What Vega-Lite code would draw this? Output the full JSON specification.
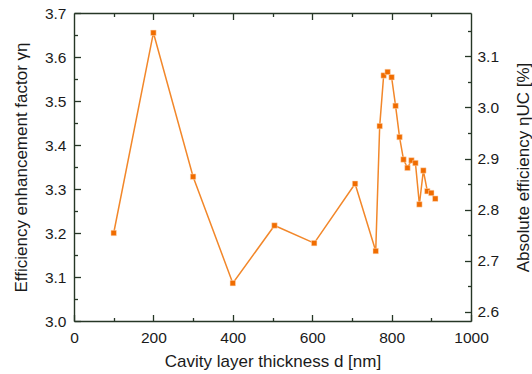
{
  "$schema": "https://vega.github.io/schema/vega-lite/v6.json",
  "width": 397,
  "height": 308,
  "autosize": "none",
  "padding": {"left": 74, "top": 13, "right": 61, "bottom": 53},
  "background": "white",
  "config": {
    "view": {"stroke": null},
    "axis": {
      "grid": false,
      "domainColor": "#263626",
      "domainWidth": 1.4,
      "labelFont": "Liberation Sans",
      "labelFontSize": 15.5,
      "labelColor": "#1a1a1a",
      "titleFont": "Liberation Sans",
      "titleFontSize": 17,
      "titleFontWeight": "normal",
      "titleColor": "#1a1a1a",
      "labelFlush": false
    }
  },
  "data": {
    "values": [
      {"d": 100, "gamma": 3.200, "eta": 2.755},
      {"d": 200, "gamma": 3.655, "eta": 3.146},
      {"d": 300, "gamma": 3.328, "eta": 2.865},
      {"d": 400, "gamma": 3.086, "eta": 2.656},
      {"d": 505, "gamma": 3.217, "eta": 2.769},
      {"d": 605, "gamma": 3.177, "eta": 2.735},
      {"d": 708, "gamma": 3.312, "eta": 2.851},
      {"d": 760, "gamma": 3.159, "eta": 2.719},
      {"d": 770, "gamma": 3.443, "eta": 2.964},
      {"d": 780, "gamma": 3.558, "eta": 3.063},
      {"d": 790, "gamma": 3.566, "eta": 3.070},
      {"d": 800, "gamma": 3.554, "eta": 3.059},
      {"d": 810, "gamma": 3.489, "eta": 3.003},
      {"d": 820, "gamma": 3.418, "eta": 2.942},
      {"d": 830, "gamma": 3.367, "eta": 2.898},
      {"d": 840, "gamma": 3.348, "eta": 2.882},
      {"d": 850, "gamma": 3.365, "eta": 2.897},
      {"d": 860, "gamma": 3.359, "eta": 2.891},
      {"d": 870, "gamma": 3.265, "eta": 2.811},
      {"d": 880, "gamma": 3.342, "eta": 2.877},
      {"d": 890, "gamma": 3.295, "eta": 2.836},
      {"d": 900, "gamma": 3.291, "eta": 2.833},
      {"d": 910, "gamma": 3.278, "eta": 2.822}
    ]
  },
  "layer": [
    {
      "mark": {"type": "point", "opacity": 0},
      "encoding": {
        "x": {"field": "d", "type": "quantitative",
          "scale": {"domain": [0, 1000], "nice": false},
          "axis": {"orient": "bottom", "values": [100, 300, 500, 700, 900], "tickSize": -3.5, "tickColor": "#263626", "tickWidth": 1.3, "labels": false, "domain": false, "title": null}},
        "y": {"field": "gamma", "type": "quantitative",
          "scale": {"domain": [3.0, 3.7], "nice": false, "zero": false},
          "axis": {"orient": "left", "values": [3.05, 3.15, 3.25, 3.35, 3.45, 3.55, 3.65], "tickSize": -3.5, "tickColor": "#263626", "tickWidth": 1.3, "labels": false, "domain": false, "title": null}}
      }
    },
    {
      "mark": {"type": "point", "opacity": 0},
      "encoding": {
        "x": {"field": "d", "type": "quantitative",
          "scale": {"domain": [0, 1000], "nice": false},
          "axis": {"orient": "top", "values": [100, 300, 500, 700, 900], "tickSize": -3.5, "tickColor": "#263626", "tickWidth": 1.3, "labels": false, "domain": false, "title": null}},
        "y": {"field": "eta", "type": "quantitative",
          "scale": {"domain": [2.582, 3.185], "nice": false, "zero": false},
          "axis": {"orient": "right", "values": [2.65, 2.75, 2.85, 2.95, 3.05, 3.15], "tickSize": -3.5, "tickColor": "#263626", "tickWidth": 1.3, "labels": false, "domain": false, "title": null}}
      }
    },
    {
      "mark": {"type": "point", "opacity": 0},
      "encoding": {
        "x": {"field": "d", "type": "quantitative",
          "scale": {"domain": [0, 1000], "nice": false},
          "axis": {"orient": "top", "values": [200, 400, 600, 800], "tickSize": -6.5, "tickColor": "#263626", "tickWidth": 1.3, "labels": false, "title": null}},
        "y": {"field": "eta", "type": "quantitative",
          "scale": {"domain": [2.582, 3.185], "nice": false, "zero": false},
          "axis": {"orient": "right", "values": [2.6, 2.7, 2.8, 2.9, 3.0, 3.1], "format": ".1f", "tickSize": -6.5, "tickColor": "#263626", "tickWidth": 1.3, "labelPadding": 12.5, "title": "Absolute efficiency ηUC [%]", "titleAngle": 270, "titleX": 52, "titleY": 154, "titleAlign": "center", "titleBaseline": "middle"}}
      }
    },
    {
      "mark": {"type": "line", "color": "#f2872a", "strokeWidth": 1.5},
      "encoding": {
        "x": {"field": "d", "type": "quantitative",
          "scale": {"domain": [0, 1000], "nice": false},
          "axis": {"orient": "bottom", "values": [0, 200, 400, 600, 800, 1000], "format": "d", "tickSize": -6.5, "tickColor": "#263626", "tickWidth": 1.3, "labelPadding": 15.5, "title": "Cavity layer thickness d [nm]", "titlePadding": 8}},
        "y": {"field": "gamma", "type": "quantitative",
          "scale": {"domain": [3.0, 3.7], "nice": false, "zero": false},
          "axis": {"orient": "left", "values": [3.0, 3.1, 3.2, 3.3, 3.4, 3.5, 3.6, 3.7], "format": ".1f", "tickSize": -6.5, "tickColor": "#263626", "tickWidth": 1.3, "labelPadding": 14.5, "title": "Efficiency enhancement factor γη", "titlePadding": 14}}
      }
    },
    {
      "mark": {"type": "square", "color": "#f06c00", "opacity": 1, "size": 30, "stroke": "#ffe0c4", "strokeWidth": 0.5, "filled": true},
      "encoding": {
        "x": {"field": "d", "type": "quantitative",
          "scale": {"domain": [0, 1000], "nice": false}, "axis": null},
        "y": {"field": "gamma", "type": "quantitative",
          "scale": {"domain": [3.0, 3.7], "nice": false, "zero": false}, "axis": null}
      }
    }
  ],
  "resolve": {
    "scale": {"x": "shared", "y": "independent"},
    "axis": {"x": "independent", "y": "independent"}
  }
}
